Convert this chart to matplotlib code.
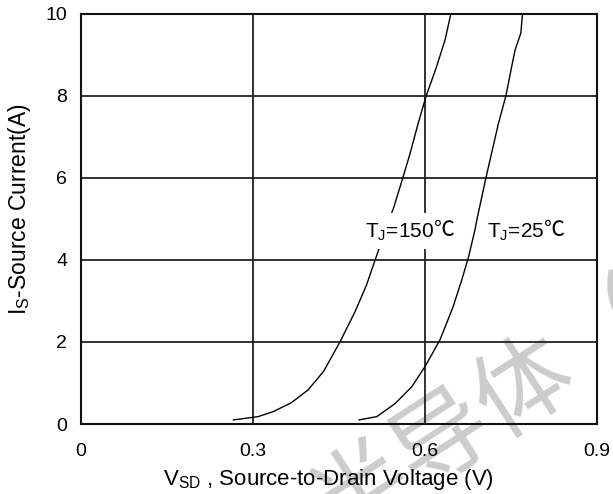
import matplotlib
matplotlib.use("Agg")
import matplotlib.pyplot as plt
from matplotlib.patches import Rectangle
from matplotlib.transforms import Bbox

plt.rcParams['font.family'] = ['Liberation Sans', 'DejaVu Sans']

# curve values (V, A)
vsd_150 = [0.266, 0.309, 0.335, 0.367, 0.396, 0.423, 0.452, 0.478, 0.498, 0.511, 0.520, 0.532, 0.545,
           0.561, 0.574, 0.588, 0.602, 0.620, 0.635, 0.645]
is_150 = [0.10, 0.18, 0.30, 0.52, 0.83, 1.28, 2.01, 2.74, 3.39, 3.92, 4.28, 4.78, 5.26,
          5.99, 6.60, 7.33, 8.00, 8.71, 9.37, 10.0]

vsd_25 = [0.485, 0.516, 0.548, 0.577, 0.600, 0.626, 0.649, 0.664, 0.676, 0.687, 0.691, 0.706,
          0.716, 0.728, 0.741, 0.751, 0.757, 0.767, 0.770]
is_25 = [0.10, 0.18, 0.50, 0.91, 1.40, 2.05, 2.86, 3.51, 4.08, 4.73, 5.02, 5.99,
         6.60, 7.33, 8.00, 8.71, 9.12, 9.53, 10.0]

x_ticks = [0, 0.3, 0.6, 0.9]
x_labels = ["0", "0.3", "0.6", "0.9"]
y_ticks = [0, 2, 4, 6, 8, 10]
labels = [("=150", 0.495), ("=25", 0.708)]

fig = plt.figure(figsize=(6.13, 4.94), dpi=100)
ax = fig.add_axes([0.132, 0.1417, 0.842, 0.83])
ax.set_facecolor('none')

# faint watermark behind everything
fig.text(0.524, -0.05, "半导体（", fontsize=70, rotation=33, rotation_mode='anchor',
         color='#cccccc', family=['Noto Sans CJK SC', 'DejaVu Sans'],
         ha='left', va='center', zorder=-1)

ax.plot(vsd_150, is_150, color='black', lw=1.0, zorder=3)
ax.plot(vsd_25, is_25, color='black', lw=1.0, zorder=3)

ax.set_xlim(0, 0.9)
ax.set_ylim(0, 10)
ax.set_xticks(x_ticks)
ax.set_xticklabels(x_labels)
ax.set_yticks(y_ticks)
ax.tick_params(length=0, labelsize=14)
ax.tick_params(axis='x', pad=14)
ax.tick_params(axis='y', pad=10)
ax.grid(True, color='#222222', lw=1.3, zorder=1)
ax.set_axisbelow(True)
for s in ax.spines.values():
    s.set_linewidth(1.5)
    s.set_color('#111111')

pairs = []
for txt, xpos in labels:
    t1 = ax.text(xpos, 4.56, "T$_\\mathregular{J}$" + txt, fontsize=15, ha='left', va='baseline', zorder=5)
    t2 = ax.annotate("℃", xy=(1, 0), xycoords=t1, xytext=(0, 1), textcoords='offset points',
                     fontsize=15, ha='left', va='bottom', zorder=5, fontweight='light',
                     family=['Noto Sans CJK SC', 'DejaVu Sans'])
    pairs.append((t1, t2))

ax.set_xlabel("V$_\\mathregular{SD}$ , Source-to-Drain Voltage (V)", fontsize=16)
ax.xaxis.set_label_coords(0.479, -0.105)
ax.set_ylabel("I$_\\mathregular{S}$-Source Current(A)", fontsize=16.5)
ax.yaxis.set_label_coords(-0.092, 0.524)

# white backing behind each curve label
fig.canvas.draw()
r = fig.canvas.get_renderer()
inv = ax.transData.inverted()
for t1, t2 in pairs:
    bb = Bbox.union([t1.get_window_extent(r), t2.get_window_extent(r)])
    bb = Bbox.from_extents(bb.x0 - 4, bb.y0 - 6, bb.x1 + 4, bb.y1 + 6).transformed(inv)
    ax.add_patch(Rectangle((bb.x0, bb.y0), bb.width, bb.height, facecolor='white',
                           edgecolor='none', zorder=4))

fig.savefig("out.png", dpi=100)
